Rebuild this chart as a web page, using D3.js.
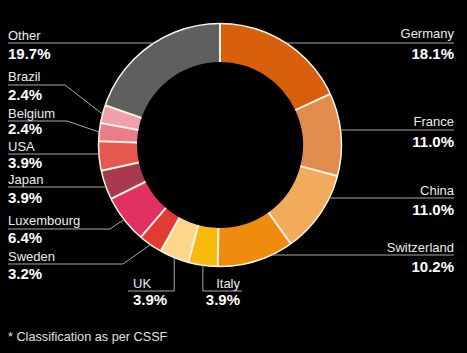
<html>
<head>
<script src="https://d3js.org/d3.v7.min.js"></script>
<style>
body { margin: 0; background: #000; }
svg { display: block; background: #000; font-family: 'Liberation Sans', Arial, sans-serif; }
</style>
</head>
<body>
<div id="chart"></div>
<script>

///////////////////////////////////
//////  data  /////////////////////
///////////////////////////////////

var countries = ["Germany", "France", "China", "Switzerland", "Italy", "UK", "Sweden",
                 "Luxembourg", "Japan", "USA", "Belgium", "Brazil", "Other"];
var shares = [18.1, 11.0, 11.0, 10.2, 3.9, 3.9, 3.2, 6.4, 3.9, 3.9, 2.4, 2.4, 19.7];
var colors = ["#d8600c", "#e08c4c", "#f2ab5a", "#ef8c0e", "#f6bb0c", "#fcd68a", "#e23c32",
              "#e23060", "#a83a4e", "#e45a50", "#eb7d8a", "#f0a0aa", "#5f5f5f"];
var footnote = "* Classification as per CSSF";

///////////////////////////////////
//////  label layout  ////////////
///////////////////////////////////
// side: l = left column, r = right column, b = below the ring
// ly = leader line y, ny = name baseline, vy = value baseline, ex = elbow x
var labelLayout = {
  "Germany":     {side: "r", ly: 43,  ny: 38,  vy: 59},
  "France":      {side: "r", ly: 130, ny: 126, vy: 147},
  "China":       {side: "r", ly: 198, ny: 195, vy: 215},
  "Switzerland": {side: "r", ly: 255, ny: 252, vy: 272},
  "Italy":       {side: "b", ly: 291, ny: 288, vy: 305, tx: 240, ex: 242, anchor: "end"},
  "UK":          {side: "b", ly: 291, ny: 288, vy: 305, tx: 133, ex: 128, anchor: "start"},
  "Sweden":      {side: "l", ly: 264, ny: 261, vy: 279, ex: 123},
  "Luxembourg":  {side: "l", ly: 229, ny: 225, vy: 243, ex: 110},
  "Japan":       {side: "l", ly: 187, ny: 184, vy: 203},
  "USA":         {side: "l", ly: 154, ny: 151, vy: 168},
  "Belgium":     {side: "l", ly: 121, ny: 118, vy: 134, ex: 67},
  "Brazil":      {side: "l", ly: 85,  ny: 81,  vy: 100, ex: 65},
  "Other":       {side: "l", ly: 43,  ny: 40,  vy: 59}
};

var width = 467, height = 353;
var cx = 220, cy = 145;
var outerR = 121.5, innerR = 83;
var leftX = 8, rightX = 454;

var svg = d3.select("#chart").append("svg").attr("width", width).attr("height", height);

var data = countries.map((c, i) => ({name: c, value: shares[i], color: colors[i]}));

var pie = d3.pie().sort(null).value(d => d.value);
var arcs = pie(data);
var arc = d3.arc().innerRadius(innerR).outerRadius(outerR);

var g = svg.append("g").attr("transform", "translate(" + cx + "," + cy + ")");

// slices
g.selectAll(".slice").data(arcs).enter()
  .append("path")
  .attr("class", "slice")
  .attr("d", arc)
  .attr("fill", d => d.data.color);

// white separators between slices
g.selectAll(".sep").data(arcs).enter()
  .append("line")
  .attr("x1", d => innerR * Math.sin(d.startAngle))
  .attr("y1", d => -innerR * Math.cos(d.startAngle))
  .attr("x2", d => outerR * Math.sin(d.startAngle))
  .attr("y2", d => -outerR * Math.cos(d.startAngle))
  .attr("stroke", "#fbf4e6")
  .attr("stroke-width", 2);

// outer rim
g.append("circle").attr("r", outerR)
  .attr("fill", "none").attr("stroke", "#fbf4e6").attr("stroke-width", 1.5);

///////////////////////////////////
//////  leaders and labels  ///////
///////////////////////////////////

function rimPoint(d) {
  var a = (d.startAngle + d.endAngle) / 2;
  return [cx + outerR * Math.sin(a), cy - outerR * Math.cos(a)];
}
function rimAtY(y, side) {
  var dx = Math.sqrt(Math.max(0, outerR * outerR - (y - cy) * (y - cy)));
  return side == "l" ? cx - dx : cx + dx;
}

var line = d3.line();

arcs.forEach(function(d) {
  var L = labelLayout[d.data.name];
  var pts;
  if (L.side == "b") {
    var p = rimPoint(d);
    pts = [p, [p[0], L.ly], [L.ex, L.ly]];
  } else if (L.ex) {
    pts = [[leftX, L.ly], [L.ex, L.ly], rimPoint(d)];
  } else if (L.side == "l") {
    pts = [[leftX, L.ly], [rimAtY(L.ly, "l"), L.ly]];
  } else {
    pts = [[rimAtY(L.ly, "r"), L.ly], [rightX, L.ly]];
  }
  svg.append("path").attr("d", line(pts))
    .attr("fill", "none").attr("stroke", "#a8a8a8").attr("stroke-width", 1);

  var tx, anchor;
  if (L.side == "l") { tx = leftX; anchor = "start"; }
  else if (L.side == "r") { tx = rightX; anchor = "end"; }
  else { tx = L.tx; anchor = L.anchor; }

  svg.append("text").attr("x", tx).attr("y", L.ny)
    .attr("text-anchor", anchor)
    .attr("fill", "#ececec").style("font-size", "13px")
    .text(d.data.name);
  svg.append("text").attr("x", tx).attr("y", L.vy)
    .attr("text-anchor", anchor)
    .attr("fill", "#ffffff").style("font-size", "15px").style("font-weight", "bold")
    .text(d3.format(".1f")(d.data.value) + "%");
});

// footnote
svg.append("text").attr("x", leftX).attr("y", 341)
  .attr("fill", "#e0e0e0").style("font-size", "12.7px")
  .text(footnote);

</script>
</body>
</html>
